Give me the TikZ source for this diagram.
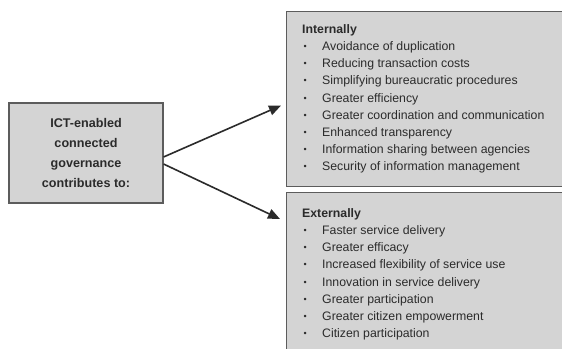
\documentclass[tikz,border=0pt]{standalone}
\usepackage{fontspec}
\setmainfont{Liberation Sans}
\usetikzlibrary{positioning,arrows.meta}

\definecolor{panelgray}{HTML}{D4D4D4}
\definecolor{edgegray}{HTML}{5C5C5C}
\definecolor{inkgray}{HTML}{2B2B2B}

% one bullet line of a list
\newcommand{\itm}[1]{\makebox[20pt][l]{\hspace{1.5pt}\raisebox{1pt}{\fontsize{9}{9}\selectfont\textbullet}}#1}

\begin{document}
\begin{tikzpicture}[x=1pt,y=-1pt,
	panel/.style={draw=edgegray,line width=1.1pt,fill=panelgray,inner sep=0pt},
	listtext/.style={inner sep=0pt,align=left,text=inkgray,font=\fontsize{12.3}{17.1}\selectfont},
	link/.style={line width=1.6pt,draw=inkgray,-{Triangle[length=12pt,width=10pt]}}]
	\clip (0,0) rectangle (562,348);
	\fill[white] (0,0) rectangle (562,348);

	% left box
	\node[panel,minimum width=154pt,minimum height=100pt,align=center,text=inkgray,
		font=\fontsize{12.6}{20}\selectfont\bfseries] (gov) at (86,153)
		{ICT-enabled\\connected\\governance\\contributes to:};

	% right boxes
	\node[panel,anchor=north west,minimum width=290pt,minimum height=175pt] (intbox) at (286,11) {};
	\node[panel,anchor=north west,minimum width=290pt,minimum height=170pt] (extbox) at (286,192) {};

	\node[listtext,anchor=north west] (inttext) at ([xshift=16pt,yshift=-13.5pt]intbox.north west)
		{\textbf{Internally}\\
		\itm{Avoidance of duplication}\\
		\itm{Reducing transaction costs}\\
		\itm{Simplifying bureaucratic procedures}\\
		\itm{Greater efficiency}\\
		\itm{Greater coordination and communication}\\
		\itm{Enhanced transparency}\\
		\itm{Information sharing between agencies}\\
		\itm{Security of information management}};

	\node[listtext,anchor=north west] (exttext) at ([xshift=16pt,yshift=-16.5pt]extbox.north west)
		{\textbf{Externally}\\
		\itm{Faster service delivery}\\
		\itm{Greater efficacy}\\
		\itm{Increased flexibility of service use}\\
		\itm{Innovation in service delivery}\\
		\itm{Greater participation}\\
		\itm{Greater citizen empowerment}\\
		\itm{Citizen participation}};

	% arrows
	\draw[link] ([yshift=-4pt]gov.east) -- ([xshift=-5pt,yshift=-6.5pt]intbox.west);
	\draw[link] ([yshift=-11pt]gov.east) -- ([xshift=-6pt,yshift=-27pt]extbox.north west);
\end{tikzpicture}
\end{document}
